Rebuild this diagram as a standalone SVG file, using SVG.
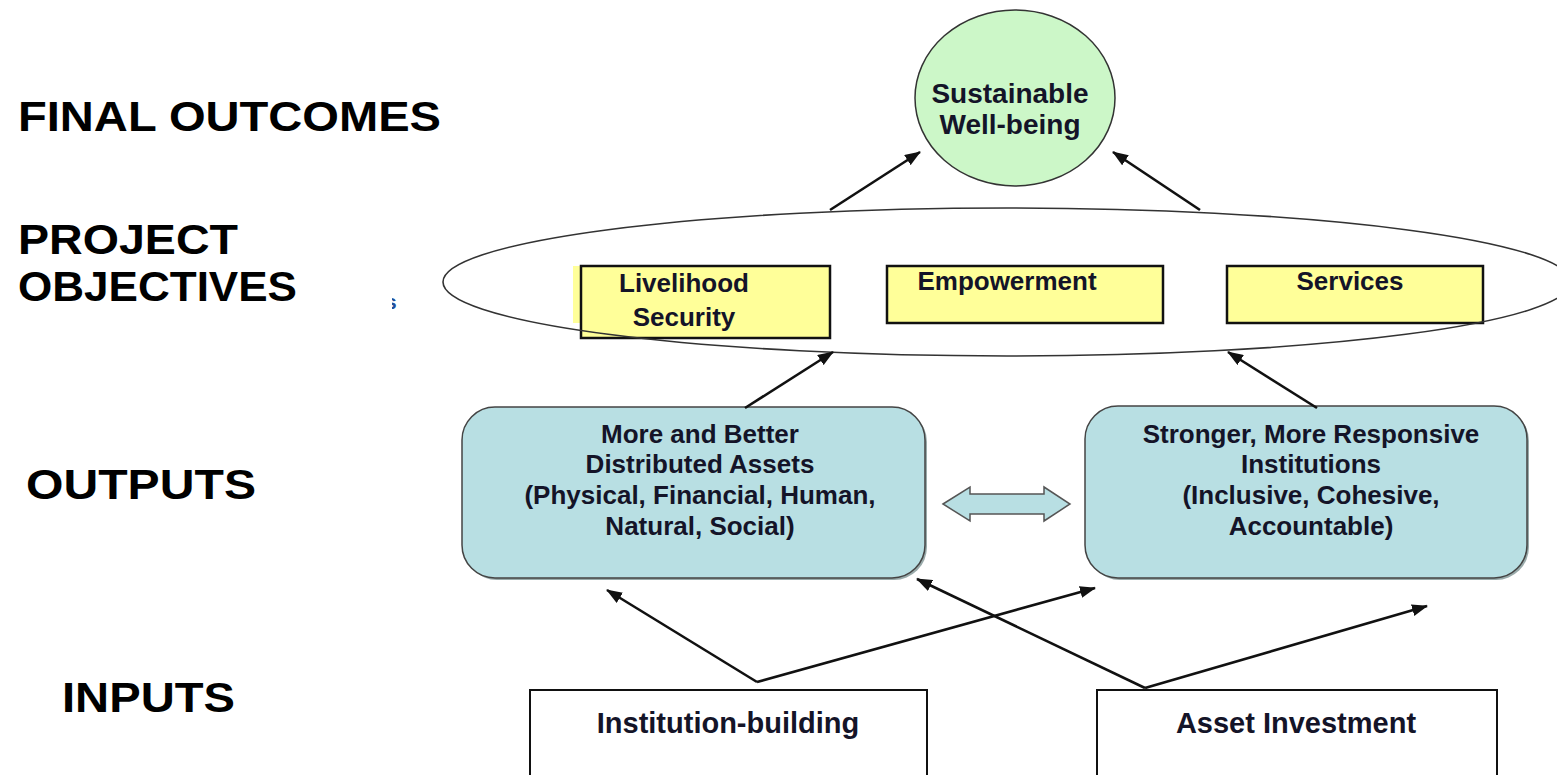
<svg xmlns="http://www.w3.org/2000/svg" width="1557" height="775" viewBox="0 0 1557 775">
<defs>
<style>
.lbl{font-family:"Liberation Sans",Arial,sans-serif;font-weight:bold;fill:#000;font-size:43px}
.t{font-family:"Liberation Sans",Arial,sans-serif;font-weight:bold;fill:#141428;font-size:26px;text-anchor:middle}
.yb{fill:#ffff99;stroke:#111;stroke-width:2.5}
.bb{fill:#b8dfe3;stroke:#444;stroke-width:1.5}
.wb{fill:#fff;stroke:#111;stroke-width:2}
.con{stroke:#111;stroke-width:2.6;fill:none}
</style>
<marker id="ah" markerUnits="userSpaceOnUse" markerWidth="16" markerHeight="12" refX="15" refY="6" orient="auto">
<path d="M0,0 L16,6 L0,12 z" fill="#111"/>
</marker>
<clipPath id="clipS"><rect x="392" y="285" width="10" height="30"/></clipPath>
</defs>
<rect width="1557" height="775" fill="#fff"/>

<g id="labels">
<text class="lbl" x="18" y="131" textLength="423" lengthAdjust="spacingAndGlyphs">FINAL OUTCOMES</text>
<text class="lbl" x="18" y="254" textLength="220" lengthAdjust="spacingAndGlyphs">PROJECT</text>
<text class="lbl" x="18" y="301" textLength="279" lengthAdjust="spacingAndGlyphs">OBJECTIVES</text>
<text class="lbl" x="26" y="499" textLength="230" lengthAdjust="spacingAndGlyphs">OUTPUTS</text>
<text class="lbl" x="62" y="712" textLength="173" lengthAdjust="spacingAndGlyphs">INPUTS</text>
<text x="385" y="309" clip-path="url(#clipS)" style="font-family:'Liberation Sans',Arial,sans-serif;font-weight:bold;font-size:21px;fill:#1f4f9a">s</text>
</g>

<g id="node-wellbeing">
<ellipse cx="1015" cy="98" rx="100" ry="88" fill="#ccf7c8" stroke="#333" stroke-width="1.5"/>
<text class="t" x="1010" y="103" style="font-size:28px">Sustainable</text>
<text class="t" x="1010" y="134" style="font-size:28px">Well-being</text>
</g>

<g id="node-livelihood">
<rect x="573" y="266" width="250" height="57" fill="#ffff99"/>
<rect class="yb" x="581" y="266" width="249" height="72"/>
<text class="t" x="684" y="292">Livelihood</text>
<text class="t" x="684" y="326">Security</text>
</g>
<g id="node-empowerment">
<rect class="yb" x="887" y="266" width="276" height="57"/>
<text class="t" x="1007" y="290">Empowerment</text>
</g>
<g id="node-services">
<rect class="yb" x="1227" y="266" width="256" height="57"/>
<text class="t" x="1350" y="290">Services</text>
</g>

<g id="node-objectives">
<ellipse cx="1007" cy="282" rx="564" ry="74" fill="none" stroke="#333" stroke-width="1.6"/>
</g>

<g id="node-assets">
<rect x="464" y="409" width="463" height="171" rx="33" fill="#9aa"/>
<rect class="bb" x="462" y="407" width="463" height="171" rx="33"/>
<text class="t" x="700" y="443">More and Better</text>
<text class="t" x="700" y="473">Distributed Assets</text>
<text class="t" x="700" y="504">(Physical, Financial, Human,</text>
<text class="t" x="700" y="535">Natural, Social)</text>
</g>

<g id="node-institutions">
<rect x="1087" y="408" width="442" height="172" rx="33" fill="#9aa"/>
<rect class="bb" x="1085" y="406" width="442" height="172" rx="33"/>
<text class="t" x="1311" y="443">Stronger, More Responsive</text>
<text class="t" x="1311" y="473">Institutions</text>
<text class="t" x="1311" y="504">(Inclusive, Cohesive,</text>
<text class="t" x="1311" y="535">Accountable)</text>
</g>

<g id="node-institution-building">
<rect class="wb" x="530" y="690" width="397" height="110"/>
<text class="t" x="728" y="733" style="font-size:29px">Institution-building</text>
</g>
<g id="node-asset-investment">
<rect class="wb" x="1097" y="690" width="400" height="110"/>
<text class="t" x="1296" y="733" style="font-size:29px">Asset Investment</text>
</g>

<g id="connectors">
<line class="con" x1="830" y1="210" x2="920" y2="152" marker-end="url(#ah)"/>
<line class="con" x1="1200" y1="210" x2="1113" y2="152" marker-end="url(#ah)"/>
<line class="con" x1="745" y1="408" x2="833" y2="352" marker-end="url(#ah)"/>
<line class="con" x1="1317" y1="408" x2="1228" y2="352" marker-end="url(#ah)"/>
<line class="con" x1="757" y1="682" x2="607" y2="590" marker-end="url(#ah)"/>
<line class="con" x1="757" y1="682" x2="1095" y2="588" marker-end="url(#ah)"/>
<line class="con" x1="1145" y1="688" x2="917" y2="579" marker-end="url(#ah)"/>
<line class="con" x1="1145" y1="688" x2="1427" y2="606" marker-end="url(#ah)"/>
<polygon points="943,504 970,487 970,494 1044,494 1044,487 1070,504 1044,521 1044,514 970,514 970,521" fill="#b8dfe3" stroke="#555" stroke-width="1.5"/>
</g>
</svg>
